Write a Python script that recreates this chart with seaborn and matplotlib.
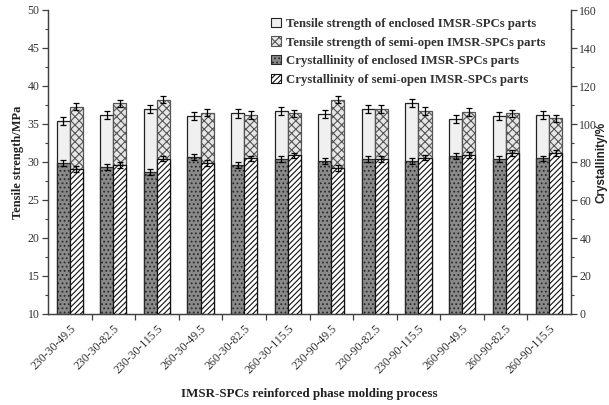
import matplotlib
matplotlib.use("Agg")
import matplotlib.pyplot as plt
from matplotlib.patches import Patch
from matplotlib.ticker import MultipleLocator, FixedLocator
import seaborn as sns
import pandas as pd

processes = ["230-30-49.5", "230-30-82.5", "230-30-115.5", "260-30-49.5",
             "260-30-82.5", "260-30-115.5", "230-90-49.5", "230-90-82.5",
             "230-90-115.5", "260-90-49.5", "260-90-82.5", "260-90-115.5"]
parts = ["enclosed", "semi-open"]

ts_enclosed = [35.4, 36.2, 37.0, 36.05, 36.4, 36.7, 36.3, 37.0, 37.8, 35.65, 36.05, 36.2]
ts_semi = [37.3, 37.7, 38.2, 36.5, 36.2, 36.4, 38.2, 37.0, 36.7, 36.6, 36.4, 35.75]
ts_err_enclosed = [0.5, 0.5, 0.5, 0.5, 0.6, 0.5, 0.5, 0.5, 0.5, 0.5, 0.5, 0.5]
ts_err_semi = [0.5, 0.5, 0.5, 0.5, 0.5, 0.5, 0.5, 0.5, 0.5, 0.5, 0.5, 0.5]

cr_enclosed = [79.5, 77.2, 74.9, 82.8, 78.4, 81.4, 80.7, 81.4, 80.5, 83.3, 81.6, 81.9]
cr_semi = [76.3, 78.4, 81.8, 79.3, 81.9, 83.5, 76.7, 81.4, 82.3, 83.7, 84.6, 84.9]
cr_err_enclosed = [1.5] * 12
cr_err_semi = [1.5] * 12

legend_labels = ["Tensile strength of enclosed IMSR-SPCs parts",
                 "Tensile strength of semi-open IMSR-SPCs parts",
                 "Crystallinity of enclosed IMSR-SPCs parts",
                 "Crystallinity of semi-open IMSR-SPCs parts"]

df_ts = pd.DataFrame({
    "process": processes * 2,
    "part": [parts[0]] * 12 + [parts[1]] * 12,
    "value": ts_enclosed + ts_semi,
})
df_cr = pd.DataFrame({
    "process": processes * 2,
    "part": [parts[0]] * 12 + [parts[1]] * 12,
    "value": cr_enclosed + cr_semi,
})

sns.set_style("ticks")
plt.rcParams["font.family"] = ["Liberation Serif", "DejaVu Serif"]
plt.rcParams["hatch.linewidth"] = 0.8

axcol = "#404040"
fig = plt.figure(figsize=(6.09, 4.05), dpi=100)
ax = fig.add_axes([48 / 609, 1 - 314 / 405, (571 - 48) / 609, (314 - 10) / 405])

sns.barplot(data=df_ts, x="process", y="value", hue="part", order=processes,
            hue_order=parts, ax=ax, errorbar=None, width=0.6, legend=False,
            zorder=2)

ts_styles = [dict(facecolor="#f0f0f0", hatch=None, edgecolor="#222222"),
             dict(facecolor="#e6e6e6", hatch="xxxx", edgecolor="#555555")]
ts_errs = [ts_err_enclosed, ts_err_semi]
for ci, cont in enumerate(ax.containers[:2]):
    xs, ys = [], []
    for bar in cont:
        bar.set_facecolor(ts_styles[ci]["facecolor"])
        bar.set_edgecolor(ts_styles[ci]["edgecolor"])
        bar.set_linewidth(0.9)
        if ts_styles[ci]["hatch"]:
            bar.set_hatch(ts_styles[ci]["hatch"])
        xs.append(bar.get_x() + bar.get_width() / 2)
        ys.append(bar.get_height())
    ax.errorbar(xs, ys, yerr=ts_errs[ci], fmt="none", ecolor="black",
                elinewidth=0.9, capsize=2.2, capthick=0.9, zorder=5)

ax2 = ax.twinx()
sns.barplot(data=df_cr, x="process", y="value", hue="part", order=processes,
            hue_order=parts, ax=ax2, errorbar=None, width=0.6, legend=False,
            zorder=2)
cr_styles = [dict(facecolor="#8a8a8a", hatch="....", edgecolor="#2a2a2a"),
             dict(facecolor="white", hatch="//////", edgecolor="#111111")]
cr_errs = [cr_err_enclosed, cr_err_semi]
for ci, cont in enumerate(ax2.containers[:2]):
    xs, ys = [], []
    for bar in cont:
        bar.set_facecolor(cr_styles[ci]["facecolor"])
        bar.set_edgecolor(cr_styles[ci]["edgecolor"])
        bar.set_linewidth(0.9)
        bar.set_hatch(cr_styles[ci]["hatch"])
        xs.append(bar.get_x() + bar.get_width() / 2)
        ys.append(bar.get_height())
    ax2.errorbar(xs, ys, yerr=cr_errs[ci], fmt="none", ecolor="black",
                 elinewidth=0.9, capsize=2.2, capthick=0.9, zorder=5)

ax.set_ylim(10, 50)
ax2.set_ylim(0, 160)
ax.set_xlim(-0.5, len(processes) - 0.5)
ax2.set_xlim(-0.5, len(processes) - 0.5)

for a in (ax, ax2):
    a.spines["top"].set_visible(False)
    for s in ("left", "right", "bottom"):
        a.spines[s].set_color(axcol)
        a.spines[s].set_linewidth(0.9)

ax.yaxis.set_major_locator(MultipleLocator(5))
ax.yaxis.set_minor_locator(MultipleLocator(2.5))
ax2.yaxis.set_major_locator(MultipleLocator(20))
ax2.yaxis.set_minor_locator(MultipleLocator(10))

ax.set_xticks(range(len(processes)))
ax.set_xticklabels(processes, rotation=45, ha="right", rotation_mode="anchor",
                   fontsize=8.5, color="#333333")
ax.xaxis.set_minor_locator(FixedLocator([i + 0.5 for i in range(len(processes) - 1)]))
ax.tick_params(axis="x", which="major", length=0, pad=6)
ax.tick_params(axis="x", which="minor", length=4, width=0.9, color=axcol, direction="out")
ax2.tick_params(axis="x", which="both", length=0)

ax.tick_params(axis="y", which="major", length=4, width=0.9, color=axcol,
               labelsize=8.5, labelcolor="#333333", pad=2)
ax.tick_params(axis="y", which="minor", length=2, width=0.8, color=axcol)
ax2.tick_params(axis="y", which="major", length=4, width=0.9, color=axcol,
                labelsize=8.5, labelcolor="#333333", pad=2)
ax2.tick_params(axis="y", which="minor", length=2, width=0.8, color=axcol)

ax.set_xlabel("IMSR-SPCs reinforced phase molding process", fontsize=9.4,
              fontweight="bold", color="#222222", labelpad=9)
ax.set_ylabel("Tensile strength/MPa", fontsize=9, fontweight="bold",
              color="#222222", labelpad=3)
ax2.set_ylabel("Crystallinity/%", fontsize=8.5, fontweight="bold",
               color="#222222", family=["Liberation Sans", "DejaVu Sans"])
ax2.yaxis.set_label_coords((596 - 48) / 523, 0.5)

handles = [
    Patch(facecolor=ts_styles[0]["facecolor"], edgecolor=ts_styles[0]["edgecolor"], linewidth=0.8),
    Patch(facecolor=ts_styles[1]["facecolor"], edgecolor=ts_styles[1]["edgecolor"], hatch="xxxx", linewidth=0.8),
    Patch(facecolor=cr_styles[0]["facecolor"], edgecolor=cr_styles[0]["edgecolor"], hatch="....", linewidth=0.8),
    Patch(facecolor=cr_styles[1]["facecolor"], edgecolor=cr_styles[1]["edgecolor"], hatch="//////", linewidth=0.8),
]
leg = ax2.legend(handles, legend_labels, loc="upper left",
                 bbox_to_anchor=(262 / 609, 1 - 9 / 405), bbox_transform=fig.transFigure,
                 frameon=False, prop={"size": 9.2, "weight": "bold"},
                 handlelength=0.75, handleheight=0.75, handletextpad=0.45,
                 labelspacing=0.5, borderpad=0.2)
for t in leg.get_texts():
    t.set_color("#333333")

fig.savefig("out.png", dpi=100)
